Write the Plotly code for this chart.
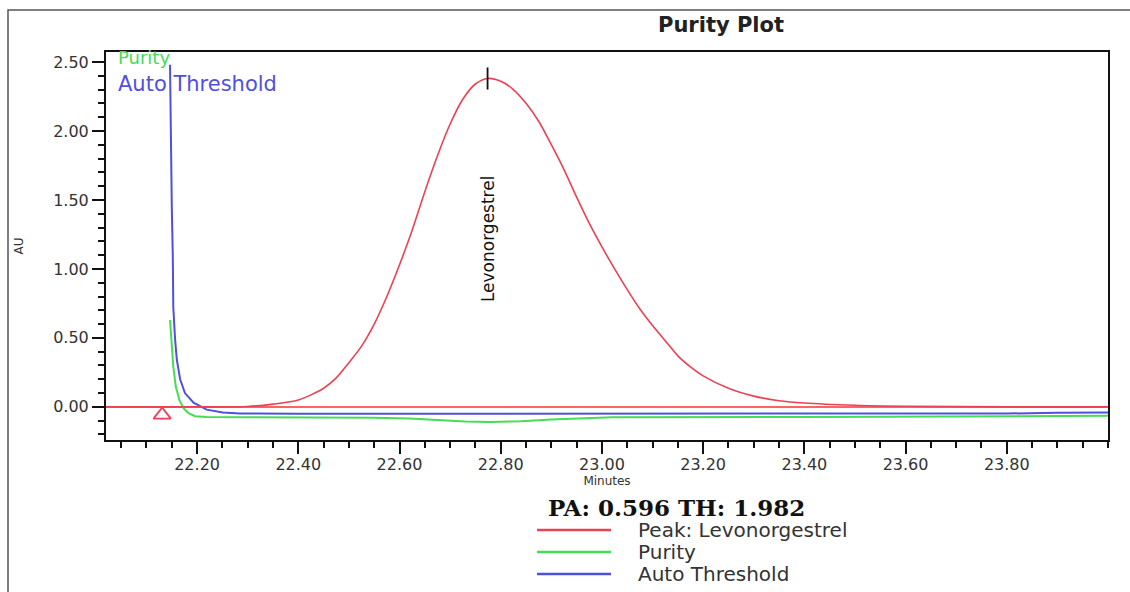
import plotly.graph_objects as go

# ---------------- data ----------------
peak_time = [22.02, 22.20, 22.30, 22.35, 22.40, 22.45, 22.475, 22.50, 22.525, 22.55,
             22.575, 22.60, 22.625, 22.65, 22.675, 22.70, 22.725, 22.75, 22.774, 22.80,
             22.825, 22.85, 22.875, 22.90, 22.925, 22.95, 22.975, 23.00, 23.025, 23.05,
             23.075, 23.10, 23.125, 23.15, 23.175, 23.20, 23.25, 23.30, 23.35, 23.40,
             23.50, 23.60, 23.80, 24.00]
peak_au = [0.0, 0.0, 0.003, 0.02, 0.05, 0.135, 0.21, 0.32, 0.44, 0.60,
           0.80, 1.03, 1.28, 1.56, 1.82, 2.05, 2.23, 2.34, 2.38, 2.36,
           2.30, 2.20, 2.07, 1.90, 1.72, 1.52, 1.33, 1.16, 1.00, 0.85,
           0.71, 0.59, 0.48, 0.37, 0.29, 0.225, 0.135, 0.078, 0.045, 0.028,
           0.012, 0.005, 0.0, 0.0]

baseline_time = [22.02, 24.00]
baseline_au = [0.0, 0.0]

purity_time = [22.1465, 22.150, 22.153, 22.158, 22.165, 22.173, 22.183, 22.196, 22.219,
               22.30, 22.45, 22.55, 22.62, 22.68, 22.73, 22.78, 22.84, 22.90, 22.96,
               23.02, 23.40, 23.80, 24.00]
purity_au = [0.63, 0.435, 0.29, 0.145, 0.05, -0.01, -0.045, -0.068, -0.074,
             -0.075, -0.075, -0.078, -0.085, -0.097, -0.106, -0.11, -0.104, -0.092, -0.082,
             -0.076, -0.073, -0.068, -0.065]

threshold_time = [22.1465, 22.148, 22.150, 22.152, 22.153, 22.1565, 22.160, 22.1665,
                  22.176, 22.193, 22.219, 22.251, 22.285, 22.40, 23.00, 23.80, 23.90, 24.00]
threshold_au = [2.48, 1.93, 1.45, 1.09, 0.72, 0.49, 0.34, 0.20,
                0.10, 0.03, -0.02, -0.04, -0.048, -0.05, -0.05, -0.048, -0.043, -0.04]

apex_time = [22.774, 22.774]
apex_au = [2.30, 2.46]
peak_name = "Levonorgestrel"
label_au = 1.22

start_time = [22.131]
start_au = [-0.058]

x_tickvals = [22.20, 22.40, 22.60, 22.80, 23.00, 23.20, 23.40, 23.60, 23.80]
y_tickvals = [0.0, 0.5, 1.0, 1.5, 2.0, 2.5]

legend_names = ["Peak: Levonorgestrel", "Purity", "Auto Threshold"]

# ---------------- styles ----------------
RED = "#ea4253"
RED_BASE = "#ff2f2f"
GREEN = "#45dd55"
BLUE = "#5050dd"
W, H = 1130, 592
L, R, T, B = 106, 22, 52, 152
PW, PH = W - L - R, H - T - B


def xp(px):
    return (px - L) / PW


def yp(py):
    return (H - B - py) / PH


fig = go.Figure()
fig.add_trace(go.Scatter(x=baseline_time, y=baseline_au, mode="lines",
                         line=dict(color=RED_BASE, width=1.5), showlegend=False))
fig.add_trace(go.Scatter(x=threshold_time, y=threshold_au, mode="lines",
                         line=dict(color=BLUE, width=2), showlegend=False))
fig.add_trace(go.Scatter(x=purity_time, y=purity_au, mode="lines",
                         line=dict(color=GREEN, width=2), showlegend=False))
fig.add_trace(go.Scatter(x=peak_time, y=peak_au, mode="lines",
                         line=dict(color=RED, width=1.6, shape="spline", smoothing=0.8),
                         showlegend=False))
fig.add_trace(go.Scatter(x=apex_time, y=apex_au, mode="lines",
                         line=dict(color="#111111", width=1.8), showlegend=False))
fig.add_trace(go.Scatter(x=start_time, y=start_au, mode="markers",
                         marker=dict(symbol="triangle-up-open", size=15, color=RED,
                                     line=dict(width=1.8, color=RED)),
                         showlegend=False))

SANS = "DejaVu Sans, Arial, sans-serif"

fig.update_layout(
    width=W, height=H,
    margin=dict(l=L, r=R, t=T, b=B),
    paper_bgcolor="white", plot_bgcolor="white",
    showlegend=False,
    font=dict(family=SANS, color="#222222"),
    xaxis=dict(
        range=[22.02, 24.00], tickvals=x_tickvals, tickformat=".2f",
        showgrid=False, zeroline=False,
        showline=True, linecolor="#111111", linewidth=2, mirror=True,
        ticks="outside", ticklen=12, tickwidth=1.5, tickcolor="#111111",
        tickfont=dict(family=SANS, size=16, color="#333333"),
        ticklabelstandoff=-3,
        minor=dict(dtick=0.05, tick0=22.0, ticks="outside", ticklen=6,
                   tickwidth=1.5, tickcolor="#111111", showgrid=False),
        title=dict(text="Minutes", font=dict(family=SANS, size=12, color="#333333"),
                   standoff=3),
    ),
    yaxis=dict(
        range=[-0.24, 2.572], tickvals=y_tickvals, tickformat=".2f",
        showgrid=False, zeroline=False,
        showline=True, linecolor="#111111", linewidth=2, mirror=True,
        ticks="outside", ticklen=12, tickwidth=1.5, tickcolor="#111111",
        tickfont=dict(family=SANS, size=16, color="#333333"),
        minor=dict(dtick=0.1, tick0=0.0, ticks="outside", ticklen=6,
                   tickwidth=1.5, tickcolor="#111111", showgrid=False),
        title=dict(text="AU", font=dict(family=SANS, size=12, color="#333333"),
                   standoff=27),
    ),
)

annotations = [
    dict(text="<b>Purity Plot</b>", x=xp(721), y=yp(25), xref="paper", yref="paper",
         xanchor="center", yanchor="middle", showarrow=False,
         font=dict(family=SANS, size=21, color="#222222")),
    dict(text=peak_name, x=apex_time[0], y=label_au, xref="x", yref="y",
         textangle=-90, xanchor="center", yanchor="middle", showarrow=False,
         font=dict(family=SANS, size=17, color="#111111")),
    dict(text="Purity", x=xp(116), y=yp(58), xref="paper", yref="paper",
         xanchor="left", yanchor="middle", showarrow=False,
         font=dict(family=SANS, size=18, color=GREEN)),
    dict(text="Auto Threshold", x=xp(116), y=yp(84), xref="paper", yref="paper",
         xanchor="left", yanchor="middle", showarrow=False,
         font=dict(family=SANS, size=21, color=BLUE)),
    dict(text="<b>PA: 0.596 TH: 1.982</b>", x=xp(676), y=yp(507), xref="paper", yref="paper",
         xanchor="center", yanchor="middle", showarrow=False,
         font=dict(family="DejaVu Serif, Times New Roman, serif", size=23, color="#111111")),
]
legend_colors = [RED, GREEN, BLUE]
legend_y = [530, 552, 574]
shapes = [
    dict(type="rect", xref="paper", yref="paper", x0=xp(8), x1=xp(1160), y0=yp(10), y1=yp(620),
         line=dict(color="#555555", width=1.5), layer="above"),
]
for name, col, ly in zip(legend_names, legend_colors, legend_y):
    shapes.append(dict(type="line", xref="paper", yref="paper", x0=xp(537), x1=xp(611),
                       y0=yp(ly), y1=yp(ly), line=dict(color=col, width=2.5)))
    annotations.append(dict(text=name, x=xp(636), y=yp(ly), xref="paper", yref="paper",
                            xanchor="left", yanchor="middle", showarrow=False,
                            font=dict(family=SANS, size=20, color="#333333")))

fig.update_layout(annotations=annotations, shapes=shapes)
fig.write_html("out.html")
